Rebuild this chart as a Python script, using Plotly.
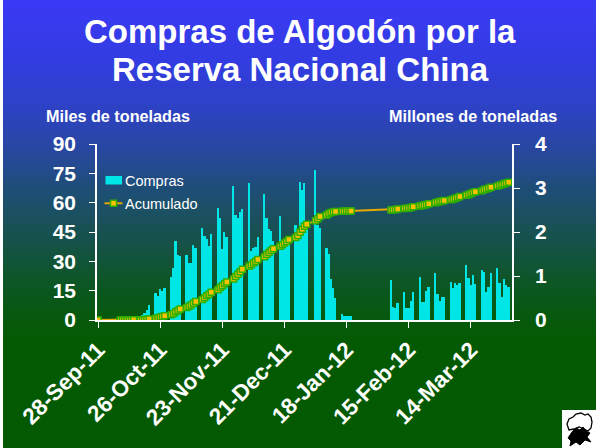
import numpy as np
import plotly.graph_objects as go

# ---------------- data ----------------
fechas = [
    "2011-09-28",
    "2011-10-08", "2011-10-09", "2011-10-10", "2011-10-11", "2011-10-12", "2011-10-13", "2011-10-14",
    "2011-10-17", "2011-10-18", "2011-10-19", "2011-10-20", "2011-10-21",
    "2011-10-24", "2011-10-25", "2011-10-26", "2011-10-27", "2011-10-28",
    "2011-10-31", "2011-11-01", "2011-11-02", "2011-11-03", "2011-11-04",
    "2011-11-07", "2011-11-08", "2011-11-09", "2011-11-10", "2011-11-11",
    "2011-11-14", "2011-11-15", "2011-11-16", "2011-11-17", "2011-11-18",
    "2011-11-21", "2011-11-22", "2011-11-23", "2011-11-24", "2011-11-25",
    "2011-11-28", "2011-11-29", "2011-11-30", "2011-12-01", "2011-12-02",
    "2011-12-05", "2011-12-06", "2011-12-07", "2011-12-08", "2011-12-09",
    "2011-12-12", "2011-12-13", "2011-12-14", "2011-12-15", "2011-12-16",
    "2011-12-19", "2011-12-20", "2011-12-21", "2011-12-22", "2011-12-23",
    "2011-12-26", "2011-12-27", "2011-12-28", "2011-12-29", "2011-12-30", "2011-12-31",
    "2012-01-04", "2012-01-05", "2012-01-06",
    "2012-01-09", "2012-01-10", "2012-01-11", "2012-01-12", "2012-01-13",
    "2012-01-16", "2012-01-17", "2012-01-18", "2012-01-19", "2012-01-20",
    "2012-02-07", "2012-02-08", "2012-02-09", "2012-02-10",
    "2012-02-13", "2012-02-14", "2012-02-15", "2012-02-16", "2012-02-17",
    "2012-02-20", "2012-02-21", "2012-02-22", "2012-02-23", "2012-02-24",
    "2012-02-27", "2012-02-28", "2012-02-29", "2012-03-01", "2012-03-02",
    "2012-03-05", "2012-03-06", "2012-03-07", "2012-03-08", "2012-03-09",
    "2012-03-12", "2012-03-13", "2012-03-14", "2012-03-15", "2012-03-16",
    "2012-03-19", "2012-03-20", "2012-03-21", "2012-03-22", "2012-03-23",
    "2012-03-26", "2012-03-27", "2012-03-28", "2012-03-29", "2012-03-30", "2012-03-31",
]

# Compras diarias (miles de toneladas)
compras = [
    0.0,
    0.2, 0.3, 0.4, 0.5, 0.5, 0.6, 0.8,
    1.5, 2.5, 3.4, 5.0, 7.7,
    14.0, 12.4, 15.8, 14.8, 16.2,
    22.0, 26.4, 40.4, 33.2, 32.7,
    33.2, 29.0, 29.0, 38.3, 37.0,
    47.2, 43.0, 41.4, 37.8, 44.1,
    57.1, 52.0, 36.3, 45.1, 42.3,
    68.5, 53.7, 52.3, 55.4, 56.6,
    70.2, 35.4, 36.6, 37.1, 42.3,
    64.4, 52.0, 46.7, 45.7, 40.4,
    53.2, 36.6, 36.6, 38.8, 41.8,
    48.6, 46.0, 70.4, 66.5, 69.9, 47.7,
    76.7, 48.6, 46.9,
    36.6, 34.0, 20.8, 16.2, 11.1,
    3.1, 2.0, 2.0, 2.0, 2.0,
    20.5, 6.8, 6.0, 8.5,
    14.1, 6.0, 6.0, 9.9, 14.1,
    21.8, 9.0, 9.3, 14.8, 17.0,
    23.9, 13.3, 9.9, 11.9, 11.6,
    19.6, 16.2, 18.8, 17.9, 19.1,
    28.0, 21.3, 17.9, 23.0, 18.4,
    25.6, 24.7, 14.5, 16.7, 24.2,
    26.4, 18.8, 11.9, 20.8, 17.9, 17.0,
]

# Acumulado (millones de toneladas)
acumulado = list(np.cumsum(compras) / 1000.0)

tick_fechas = ["2011-09-28", "2011-10-26", "2011-11-23", "2011-12-21",
               "2012-01-18", "2012-02-15", "2012-03-14"]
tick_textos = ["28-Sep-11", "26-Oct-11", "23-Nov-11", "21-Dec-11",
               "18-Jan-12", "15-Feb-12", "14-Mar-12"]
y_izq_ticks = [0, 15, 30, 45, 60, 75, 90]
y_der_ticks = [0, 1, 2, 3, 4]

# ---------------- layout geometry ----------------
W, H = 596, 448
L, R, T, B = 97, 84, 144, 128
PW, PH = W - L - R, H - T - B


def px(x):
    return (x - L) / PW


def py(y):
    return (H - B - y) / PH


FONT = "Liberation Sans, Arial, Helvetica, sans-serif"
CYAN = "#00E5E5"
LINE = "#E8A800"
MFILL = "#FFC000"
MEDGE = "#2EB000"

fig = go.Figure()

fig.add_trace(go.Bar(
    x=fechas, y=compras, name="Compras",
    marker=dict(color=CYAN, line=dict(width=0)),
    width=0.8 * 86400000, yaxis="y",
))
fig.add_trace(go.Scatter(
    x=fechas, y=acumulado, name="Acumulado", mode="lines+markers",
    line=dict(color=LINE, width=2),
    marker=dict(symbol="square", size=6, color=MFILL, line=dict(color=MEDGE, width=1.5)),
    yaxis="y2",
))

# ---------------- background gradient ----------------
stops = [(0, (58, 58, 245)), (60, (50, 60, 225)), (110, (45, 66, 195)),
         (150, (40, 72, 160)), (190, (30, 78, 118)), (230, (24, 81, 84)),
         (270, (16, 85, 48)), (300, (9, 88, 24)), (335, (4, 90, 4))]
shapes = []
step = 4
for y0 in range(0, 336, step):
    yc = y0 + step / 2
    for i in range(len(stops) - 1):
        if stops[i][0] <= yc <= stops[i + 1][0]:
            a, ca = stops[i]
            b, cb = stops[i + 1]
            t = (yc - a) / (b - a)
            c = tuple(int(round(ca[k] + (cb[k] - ca[k]) * t)) for k in range(3))
            break
    else:
        c = stops[-1][1]
    shapes.append(dict(type="rect", xref="paper", yref="paper", layer="below",
                       x0=px(-1), x1=px(W + 1), y0=py(y0 + step + 0.5), y1=py(y0),
                       fillcolor="rgb(%d,%d,%d)" % c, line=dict(width=0)))
# white strip on left edge
shapes.append(dict(type="rect", xref="paper", yref="paper", layer="below",
                   x0=px(-1), x1=px(3), y0=py(H + 1), y1=py(-1),
                   fillcolor="white", line=dict(width=0)))

# ---------------- custom legend ----------------
shapes.append(dict(type="rect", xref="paper", yref="paper",
                   x0=px(105.5), x1=px(122), y0=py(184.5), y1=py(176),
                   fillcolor=CYAN, line=dict(width=0)))
shapes.append(dict(type="line", xref="paper", yref="paper",
                   x0=px(104.5), x1=px(122.5), y0=py(203.3), y1=py(203.3),
                   line=dict(color=LINE, width=2)))
shapes.append(dict(type="rect", xref="paper", yref="paper",
                   x0=px(110.5), x1=px(116.5), y0=py(206.3), y1=py(200.3),
                   fillcolor=MFILL, line=dict(color=MEDGE, width=1.5)))

# ---------------- logo (cotton boll) ----------------
shapes.append(dict(type="rect", xref="paper", yref="paper",
                   x0=px(562), x1=px(W + 1), y0=py(H + 1), y1=py(410),
                   fillcolor="white", line=dict(width=0)))


def path(pts):
    s = "M%.5f,%.5f" % (px(pts[0][0]), py(pts[0][1]))
    for (x, y) in pts[1:]:
        s += " L%.5f,%.5f" % (px(x), py(y))
    return s + " Z"


boll = [(569, 430), (567, 424), (569, 419), (573, 417), (576, 414), (581, 413),
        (585, 415), (588, 414), (591, 417), (592, 422), (591, 428), (588, 431),
        (584, 429), (579, 427), (574, 429)]
shapes.append(dict(type="path", xref="paper", yref="paper", path=path(boll),
                   fillcolor="white", line=dict(color="black", width=1.3)))
dark = [(568, 438), (572, 432), (576, 428), (580, 430), (583, 427), (586, 431),
        (590, 433), (587, 437), (591, 442), (585, 440), (580, 445), (576, 442),
        (570, 446), (571, 441)]
shapes.append(dict(type="path", xref="paper", yref="paper", path=path(dark),
                   fillcolor="black", line=dict(color="black", width=1)))

# ---------------- annotations ----------------
ann = []
ann.append(dict(text="<b>Compras de Algodón por la</b>", x=px(300), y=py(31),
                xref="paper", yref="paper", showarrow=False, xanchor="center", yanchor="middle",
                font=dict(family=FONT, size=33, color="white")))
ann.append(dict(text="<b>Reserva Nacional China</b>", x=px(300), y=py(69),
                xref="paper", yref="paper", showarrow=False, xanchor="center", yanchor="middle",
                font=dict(family=FONT, size=33, color="white")))
ann.append(dict(text="<b>Miles de toneladas</b>", x=px(44), y=py(116),
                xref="paper", yref="paper", showarrow=False, xanchor="left", yanchor="middle",
                font=dict(family=FONT, size=16.2, color="white")))
ann.append(dict(text="<b>Millones de toneladas</b>", x=px(559), y=py(116),
                xref="paper", yref="paper", showarrow=False, xanchor="right", yanchor="middle",
                font=dict(family=FONT, size=16.2, color="white")))
ann.append(dict(text="Compras", x=px(122.5), y=py(180.5),
                xref="paper", yref="paper", showarrow=False, xanchor="left", yanchor="middle",
                font=dict(family=FONT, size=14.5, color="white")))
ann.append(dict(text="Acumulado", x=px(122.5), y=py(203.5),
                xref="paper", yref="paper", showarrow=False, xanchor="left", yanchor="middle",
                font=dict(family=FONT, size=14.5, color="white")))

axis_common = dict(showgrid=False, zeroline=False, showline=True, linecolor="white",
                   linewidth=1.5, ticks="outside", ticklen=6, tickcolor="white", tickwidth=1)

fig.update_layout(
    width=W, height=H, autosize=False,
    margin=dict(l=L, r=R, t=T, b=B, pad=0),
    paper_bgcolor="rgb(4,90,2)", plot_bgcolor="rgba(0,0,0,0)",
    showlegend=False, bargap=0,
    shapes=shapes, annotations=ann,
    xaxis=dict(type="date", range=["2011-09-27 12:00", "2012-04-01 12:00"],
               tickmode="array", tickvals=tick_fechas, ticktext=tick_textos,
               tickangle=-45, tickfont=dict(family=FONT, size=22.5, color="white", weight="bold"),
               **axis_common),
    yaxis=dict(range=[0, 90], tickmode="array", tickvals=y_izq_ticks,
               tickfont=dict(family=FONT, size=21, color="white", weight="bold"),
               ticklabelstandoff=9, **axis_common),
    yaxis2=dict(range=[0, 4], tickmode="array", tickvals=y_der_ticks, overlaying="y",
                side="right", anchor="x",
                tickfont=dict(family=FONT, size=21, color="white", weight="bold"),
                ticklabelstandoff=11, **axis_common),
)

fig.write_html("out.html", config={"displayModeBar": False},
               post_script="document.body.style.margin='0';document.body.style.padding='0';"
                           "document.body.style.overflow='hidden';")
